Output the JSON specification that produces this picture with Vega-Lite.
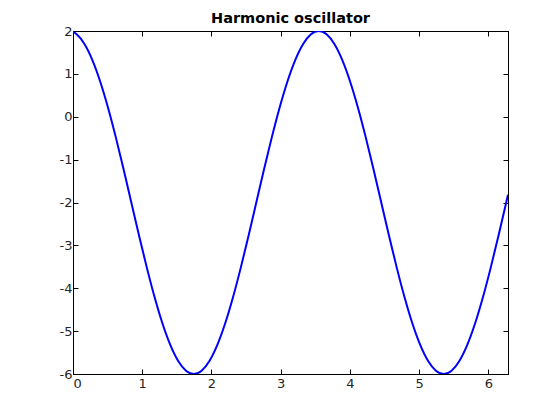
{
  "$schema": "https://vega.github.io/schema/vega-lite/v6.json",
  "width": 435,
  "height": 343,
  "autosize": {"type": "none"},
  "padding": {"left": 73, "top": 31, "right": 52, "bottom": 46},
  "background": "white",
  "title": {"text": "Harmonic oscillator", "font": "DejaVu Sans", "fontSize": 14.5, "fontWeight": "bold", "color": "black", "offset": -1, "anchor": "middle"},
  "config": {
    "view": {"stroke": "black", "strokeWidth": 1},
    "axis": {"grid": false, "domainColor": "black", "tickColor": "black", "tickSize": -5, "labelFont": "DejaVu Sans", "labelFontSize": 13, "labelColor": "#262626", "title": null, "labelExpr": "'' + datum.value"}
  },
  "data": {"values": [
    {"t": 0, "y": 1.978},
    {"t": 0.0528, "y": 1.9232},
    {"t": 0.1656, "y": 1.6955},
    {"t": 0.2784, "y": 1.3259},
    {"t": 0.3912, "y": 0.8284},
    {"t": 0.5041, "y": 0.2223},
    {"t": 0.6169, "y": -0.4693},
    {"t": 0.7297, "y": -1.2196},
    {"t": 0.8425, "y": -2},
    {"t": 0.9553, "y": -2.7804},
    {"t": 1.0681, "y": -3.5307},
    {"t": 1.1809, "y": -4.2223},
    {"t": 1.2937, "y": -4.8284},
    {"t": 1.4066, "y": -5.3259},
    {"t": 1.5194, "y": -5.6955},
    {"t": 1.6322, "y": -5.9232},
    {"t": 1.745, "y": -6},
    {"t": 1.8578, "y": -5.9232},
    {"t": 1.9706, "y": -5.6955},
    {"t": 2.0834, "y": -5.3259},
    {"t": 2.1962, "y": -4.8284},
    {"t": 2.3091, "y": -4.2223},
    {"t": 2.4219, "y": -3.5307},
    {"t": 2.5347, "y": -2.7804},
    {"t": 2.6475, "y": -2},
    {"t": 2.7603, "y": -1.2196},
    {"t": 2.8731, "y": -0.4693},
    {"t": 2.9859, "y": 0.2223},
    {"t": 3.0987, "y": 0.8284},
    {"t": 3.2115, "y": 1.3259},
    {"t": 3.3244, "y": 1.6955},
    {"t": 3.4372, "y": 1.9232},
    {"t": 3.55, "y": 2},
    {"t": 3.6628, "y": 1.9232},
    {"t": 3.7756, "y": 1.6955},
    {"t": 3.8884, "y": 1.3259},
    {"t": 4.0012, "y": 0.8284},
    {"t": 4.114, "y": 0.2223},
    {"t": 4.2269, "y": -0.4693},
    {"t": 4.3397, "y": -1.2196},
    {"t": 4.4525, "y": -2},
    {"t": 4.5653, "y": -2.7804},
    {"t": 4.6781, "y": -3.5307},
    {"t": 4.7909, "y": -4.2223},
    {"t": 4.9037, "y": -4.8284},
    {"t": 5.0165, "y": -5.3259},
    {"t": 5.1294, "y": -5.6955},
    {"t": 5.2422, "y": -5.9232},
    {"t": 5.355, "y": -6},
    {"t": 5.4678, "y": -5.9232},
    {"t": 5.5806, "y": -5.6955},
    {"t": 5.6934, "y": -5.3259},
    {"t": 5.8062, "y": -4.8284},
    {"t": 5.919, "y": -4.2223},
    {"t": 6.0319, "y": -3.5307},
    {"t": 6.1447, "y": -2.7804},
    {"t": 6.2575, "y": -2},
    {"t": 6.2832, "y": -1.82}
  ]},
  "layer": [
    {
      "mark": {"type": "line", "color": "#0000ff", "strokeWidth": 2, "interpolate": "monotone", "clip": true},
      "encoding": {
        "x": {"field": "t", "type": "quantitative", "scale": {"domain": [0, 6.2832], "nice": false, "zero": false}, "axis": {"orient": "bottom", "values": [0, 1, 2, 3, 4, 5, 6], "labelPadding": 8}},
        "y": {"field": "y", "type": "quantitative", "scale": {"domain": [-6, 2], "nice": false, "zero": false}, "axis": {"orient": "left", "values": [-6, -5, -4, -3, -2, -1, 0, 1, 2], "labelPadding": 6}}
      }
    },
    {
      "mark": {"type": "line", "opacity": 0},
      "encoding": {
        "x": {"field": "t", "type": "quantitative", "axis": {"orient": "top", "values": [0, 1, 2, 3, 4, 5, 6], "labels": false}},
        "y": {"field": "y", "type": "quantitative", "axis": {"orient": "right", "values": [-6, -5, -4, -3, -2, -1, 0, 1, 2], "labels": false}}
      }
    }
  ]
}
